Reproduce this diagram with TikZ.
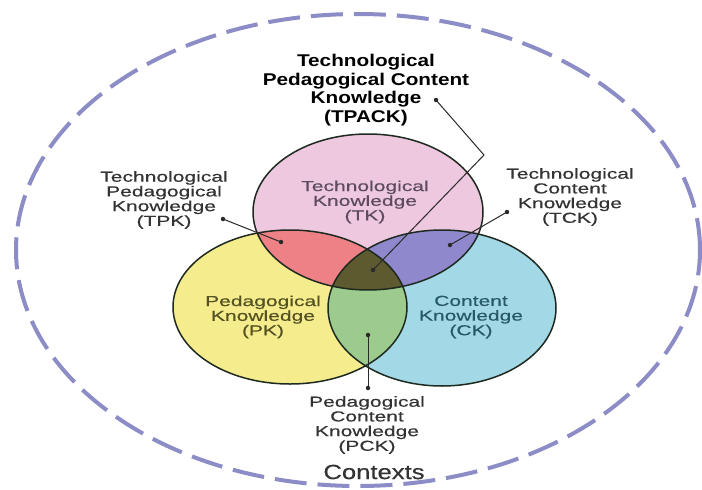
\documentclass[tikz,border=0pt]{standalone}
\usepackage{fontspec}
\newfontfamily\labfont[FakeStretch=1.45,FakeBold=0.4]{Liberation Sans}
\newfontfamily\ctxfont[FakeStretch=1.25,FakeBold=0.4]{Liberation Sans}
\newfontfamily\tpfont[FakeStretch=1.22]{Liberation Sans}
\definecolor{tkc}{HTML}{EDC8DE}
\definecolor{pkc}{HTML}{F5EC8E}
\definecolor{ckc}{HTML}{A3D8E6}
\definecolor{tpkc}{HTML}{EE8186}
\definecolor{tckc}{HTML}{8F88CC}
\definecolor{pckc}{HTML}{9DCB8D}
\definecolor{tpackc}{HTML}{5C5A2E}
\definecolor{ctxc}{HTML}{8C8CC6}
\definecolor{edgec}{HTML}{1E2A20}
\definecolor{linec}{HTML}{2A2A2A}
\definecolor{outtxt}{HTML}{333333}
\definecolor{tktxt}{HTML}{5E4C5E}
\definecolor{pktxt}{HTML}{545222}
\definecolor{cktxt}{HTML}{285866}
\begin{document}
\begin{tikzpicture}[x=1pt,y=-1pt,
  outline/.style={draw=edgec,line width=1.5pt},
  conn/.style={draw=linec,line width=1pt},
  dotn/.style={circle,fill=linec,inner sep=0pt,minimum size=4.5pt},
  lab/.style={align=center,inner sep=0pt,text=outtxt,font=\labfont\fontsize{14.5}{14.7}\selectfont},
  inlab/.style={lab},
  tplab/.style={align=center,inner sep=0pt,text=black,font=\tpfont\bfseries\fontsize{17}{18.5}\selectfont},
  ctxlab/.style={inner sep=0pt,text=outtxt,font=\ctxfont\fontsize{20.5}{22}\selectfont}]
\useasboundingbox (0,0) rectangle (702,490);
\fill[white] (0,0) rectangle (702,490);
\def\TKpath{(368,212) ellipse [x radius=115pt, y radius=78pt]}
\def\PKpath{(290,307) ellipse [x radius=117pt, y radius=77pt]}
\def\CKpath{(442,308) ellipse [x radius=114pt, y radius=78pt]}
% contexts
\draw[ctxc,line width=4pt,dash pattern=on 32pt off 11pt] (358,250) ellipse [x radius=342pt, y radius=236pt];
% base fills
\fill[tkc] \TKpath;
\fill[pkc] \PKpath;
\fill[ckc] \CKpath;
\begin{scope}\clip \TKpath; \fill[tpkc] \PKpath; \end{scope}
\begin{scope}\clip \TKpath; \fill[tckc] \CKpath; \end{scope}
\begin{scope}\clip \PKpath; \fill[pckc] \CKpath; \end{scope}
\begin{scope}\clip \TKpath; \clip \PKpath; \fill[tpackc] \CKpath; \end{scope}
\draw[outline] \TKpath;
\draw[outline] \PKpath;
\draw[outline] \CKpath;
% inner labels
\node[inlab,text=tktxt] (tk) at (365,202) {Technological\\Knowledge\\(TK)};
\node[inlab,text=pktxt] (pk) at (263,317) {Pedagogical\\Knowledge\\(PK)};
\node[inlab,text=cktxt] (ck) at (471,317) {Content\\Knowledge\\(CK)};
% outer labels
\node[tplab] (tpack) at (366,90) {Technological\\Pedagogical Content\\Knowledge\\(TPACK)};
\node[lab] (tpk) at (164,200) {Technological\\Pedagogical\\Knowledge\\(TPK)};
\node[lab] (tck) at (570,197) {Technological\\Content\\Knowledge\\(TCK)};
\node[lab] (pck) at (367,425) {Pedagogical\\Content\\Knowledge\\(PCK)};
\node[ctxlab] (ctx) at (374,472) {Contexts};
% connectors
\node[dotn] (tpackL) at (436,100) {};
\node[dotn] (tpackI) at (373,270) {};
\coordinate (tpackE) at (484,155);
\draw[conn] (tpackL.center) -- (tpackE) -- (tpackI.center);
\node[dotn] (tpkL) at (223,219) {};
\node[dotn] (tpkI) at (281,242) {};
\draw[conn] (tpkL.center) -- (tpkI.center);
\node[dotn] (tckL) at (507,212) {};
\node[dotn] (tckI) at (450,245) {};
\draw[conn] (tckL.center) -- (tckI.center);
\node[dotn] (pckI) at (368,335) {};
\node[dotn] (pckL) at (368,388) {};
\draw[conn] (pckI.center) -- (pckL.center);
\end{tikzpicture}
\end{document}
